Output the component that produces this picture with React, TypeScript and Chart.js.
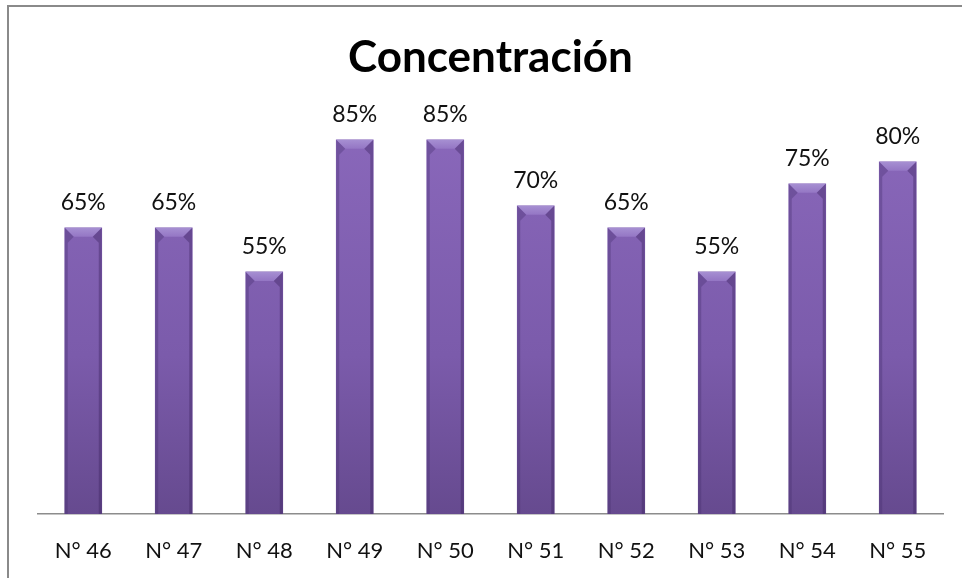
import React, { useEffect, useRef } from "react";
import { Chart, registerables } from "chart.js";

Chart.register(...registerables);

const categories = ["N° 46", "N° 47", "N° 48", "N° 49", "N° 50", "N° 51", "N° 52", "N° 53", "N° 54", "N° 55"];
const values = [65, 65, 55, 85, 85, 70, 65, 55, 75, 80];
const chartTitle = "Concentración";
const FONT = "Lato, 'Open Sans', sans-serif";

const barDecor = {
  id: "barDecor",
  afterDatasetsDraw(chart: any) {
    const ctx = chart.ctx as CanvasRenderingContext2D;
    const meta = chart.getDatasetMeta(0);
    const ds = chart.data.datasets[0];
    meta.data.forEach((bar: any, i: number) => {
      const { x, y, base, width } = bar.getProps(["x", "y", "base", "width"], true);
      const x0 = x - width / 2;
      const x1 = x + width / 2;
      const b = 9;
      const s = 3;
      ctx.save();
      // top bevel
      ctx.beginPath();
      ctx.moveTo(x0, y);
      ctx.lineTo(x1, y);
      ctx.lineTo(x1 - b, y + b);
      ctx.lineTo(x0 + b, y + b);
      ctx.closePath();
      const tg = ctx.createLinearGradient(0, y, 0, y + b);
      tg.addColorStop(0, "#a68fd2");
      tg.addColorStop(1, "#9476c4");
      ctx.fillStyle = tg;
      ctx.fill();
      // left bevel
      ctx.beginPath();
      ctx.moveTo(x0, y);
      ctx.lineTo(x0 + b, y + b);
      ctx.lineTo(x0 + s, y + b + 6);
      ctx.lineTo(x0 + s, base);
      ctx.lineTo(x0, base);
      ctx.closePath();
      ctx.fillStyle = "rgba(70,45,110,0.35)";
      ctx.fill();
      // right bevel
      ctx.beginPath();
      ctx.moveTo(x1, y);
      ctx.lineTo(x1 - b, y + b);
      ctx.lineTo(x1 - s, y + b + 6);
      ctx.lineTo(x1 - s, base);
      ctx.lineTo(x1, base);
      ctx.closePath();
      ctx.fillStyle = "rgba(60,35,95,0.4)";
      ctx.fill();
      // label
      ctx.fillStyle = "#111";
      ctx.font = "23px " + FONT;
      ctx.textAlign = "center";
      ctx.textBaseline = "alphabetic";
      ctx.fillText(ds.data[i] + "%", x, y - 18);
      ctx.restore();
    });
  },
};

export default function App() {
  const ref = useRef<HTMLCanvasElement>(null);
  useEffect(() => {
    if (!ref.current) return;
    const chart = new Chart(ref.current, {
      type: "bar",
      data: {
        labels: categories,
        datasets: [
          {
            data: values,
            backgroundColor: (c: any) => {
              const area = c.chart.chartArea;
              if (!area) return "#7f5dae";
              const g = c.chart.ctx.createLinearGradient(0, area.top, 0, area.bottom);
              g.addColorStop(0, "#8a68bb");
              g.addColorStop(0.6, "#7b5bab");
              g.addColorStop(1, "#664a8f");
              return g;
            },
            borderWidth: 0,
            barThickness: 37,
          },
        ],
      },
      options: {
        responsive: false,
        animation: false,
        layout: { padding: { left: 38, right: 19, top: 0, bottom: 15 } },
        plugins: {
          legend: { display: false },
          tooltip: { enabled: false },
          title: {
            display: true,
            text: chartTitle,
            color: "#000",
            font: { family: FONT, size: 44, weight: "bold", lineHeight: 1.2 },
            padding: { top: 31, bottom: 34 },
          },
        },
        scales: {
          x: {
            grid: { display: false, drawTicks: false },
            border: { display: true, color: "#8c8c8c", width: 1.5 },
            ticks: { color: "#111", font: { family: FONT, size: 22 }, padding: 24 },
            afterFit: (scale: any) => {
              scale.height = 49;
            },
          },
          y: { display: false, min: 0, max: 90 },
        },
      },
      plugins: [barDecor],
    });
    return () => chart.destroy();
  }, []);
  return (
    <div style={{ position: "fixed", left: 0, top: 0, width: 962, height: 578, overflow: "hidden", background: "#fff" }}>
      <div
        style={{
          position: "absolute",
          left: 7,
          top: 5,
          width: 1000,
          height: 700,
          borderTop: "2px solid #8a8a8a",
          borderLeft: "2px solid #8a8a8a",
        }}
      />
      <canvas ref={ref} width={962} height={578} style={{ position: "absolute", left: 0, top: 0 }} />
    </div>
  );
}
